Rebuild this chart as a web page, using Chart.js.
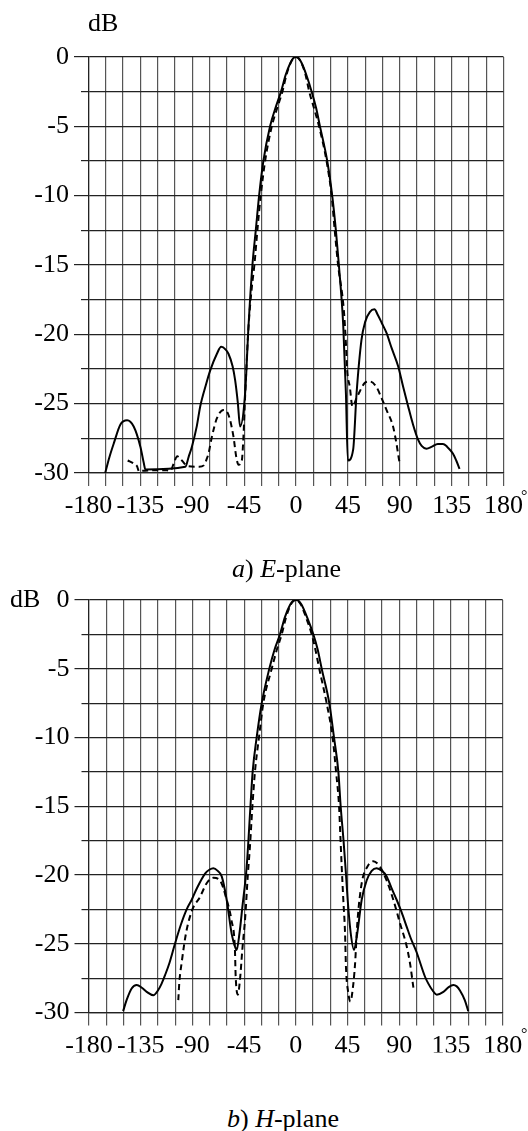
<!DOCTYPE html>
<html>
<head>
<meta charset="utf-8">
<script src="https://cdn.jsdelivr.net/npm/chart.js@4.4.1/dist/chart.umd.min.js"></script>
<style>
  body { margin: 0; background: #fff; width: 528px; height: 1131px; position: relative; overflow: hidden;
         font-family: "Liberation Serif", "DejaVu Serif", "Times New Roman", Times, serif; color: #000; }
  canvas { position: absolute; left: 0; }
  .txt { position: absolute; font-size: 26px; line-height: 26px; white-space: nowrap; }
  .deg { position: absolute; font-size: 16px; line-height: 16px; }
</style>
</head>
<body>
<canvas id="ePlane" width="528" height="530" style="top:0"></canvas>
<canvas id="hPlane" width="528" height="500" style="top:560px"></canvas>

<div class="txt" style="left:88px;top:10px">dB</div>
<div class="deg" style="left:521px;top:488px">°</div>
<div class="txt" style="left:232px;top:556px"><i>a</i>) <i>E</i>-plane</div>

<div class="txt" style="left:10px;top:586px">dB</div>
<div class="deg" style="left:521px;top:1026px">°</div>
<div class="txt" style="left:227px;top:1106px"><i>b</i>) <i>H</i>-plane</div>

<script>
// tick labels
const degLabels = [-180, -135, -90, -45, 0, 45, 90, 135, 180]
const dbLabels = [0, -5, -10, -15, -20, -25, -30]

// a) E-plane, solid curve
const eSolidDeg = [-165.5, -162, -158, -152.3, -146.5, -140.8, -135, -132, -130.7, -96, -93, -90.3, -86, -83.1, -78, -74.4,
  -68.6, -64.9, -61, -58.6, -55, -52.8, -50.5, -48.5, -44.1, -41.2, -37.8, -34.9, -32, -28.3, -22.5, -17.5, -13, -9, -5, -2.5, 0,
  2.5, 5, 9, 13.6, 17.5, 20.8, 27.1, 31.4, 34.6, 37.2, 41, 43.3, 45, 49.6, 52.5, 56.8, 60, 64, 68, 71, 74.5, 78.5, 83, 88.6, 93,
  97.3, 101.5, 105.9, 109, 113.1, 118, 123, 127.5, 131, 136.1, 139, 141.9]
const eSolidDb = [-30, -28.9, -27.85, -26.5, -26.2, -26.65, -28.1, -29.3, -29.75, -29.55, -28.8, -28.1, -26.6, -25.2, -23.6, -22.6,
  -21.4, -20.9, -21.1, -21.4, -22.3, -23.3, -24.9, -26.65, -24.2, -19.4, -15, -12.5, -10, -7.5, -5, -3.6, -2.5, -1.3, -0.45, -0.1, 0,
  -0.1, -0.45, -1.3, -2.5, -3.7, -5, -7.5, -10, -12.5, -15, -19.4, -24.25, -29.1, -28.3, -24.3, -20.4, -19.1, -18.4, -18.2, -18.6, -19.2, -19.9, -21, -22.3, -23.8,
  -25.2, -26.5, -27.6, -28.05, -28.25, -28.1, -27.9, -27.9, -28.1, -28.6, -29.1, -29.7]

// a) E-plane, dashed curve
const eDashDeg = [-146, -141, -138, -136, -134, -112, -109, -106, -103, -99, -94, -84, -80, -77.5, -75.9, -73, -68.6, -62.9,
  -58.6, -54.2, -51.9, -49.9, -47, -45.6, -44.1, -41.3, -38.3, -36.1, -33.5, -30.6, -26.8, -21, -16, -11.8, -8, -4.5, -2.2, 0,
  2.2, 4.5, 8, 11.5, 16, 20, 26.5, 30.9, 33.6, 36.5, 41.5, 43.3, 44.4, 46.7, 49, 52.5, 55.4, 59.7, 64, 69.8, 74.2, 78.5, 84.2, 87.1, 89.4, 90]
const eDashDb = [-29.1, -29.3, -29.5, -29.9, -29.85, -29.8, -29.85, -29.3, -28.8, -29.1, -29.5, -29.55, -29.45, -29.0, -28.6, -27.4, -26.05, -25.45,
  -25.8, -27.4, -28.8, -29.4, -29.1, -27.4, -24.4, -19.6, -16.6, -15, -12.5, -10, -7.5, -5, -3.6, -2.5, -1.2, -0.4, -0.1, 0,
  -0.1, -0.4, -1.2, -2.5, -3.8, -5, -7.5, -10, -12.5, -15, -18.25, -20.65, -22.6, -23.8, -25.2, -24.6, -24.1, -23.5, -23.4, -23.8, -24.6, -25.45, -26.65, -27.85, -29.05, -29.3]

// b) H-plane, solid curve
const hSolidDeg = [-150.3, -147.3, -142.9, -138.5, -134, -129.8, -124, -120, -116.8, -113.9, -110, -105.2, -100, -95, -90.6, -86.3,
  -79, -75, -71.8, -68, -64.5, -60.2, -55.8, -53, -51.5, -49, -46.5, -42.8, -39.5, -37.6, -34.1, -29.7, -23.1, -18.5, -13.8, -9.5, -5, -2.5, 0,
  2.5, 5, 10, 15.2, 19, 22.5, 29.1, 33.2, 37, 39, 41.5, 43.5, 45.1, 47.7, 50.6, 53.5, 57.3, 61.6, 66, 70.3, 75, 79, 83, 87.7, 92,
  96.4, 100, 105, 112.4, 115.3, 119, 122.6, 128.4, 133, 137.1, 140, 142.8, 147, 150]
const hSolidDb = [-29.9, -29.1, -28.25, -28.0, -28.2, -28.5, -28.75, -28.4, -27.9, -27.3, -26.4, -25.0, -23.6, -22.5, -21.8, -21,
  -19.9, -19.6, -19.5, -19.7, -20.1, -21.8, -24.3, -25.2, -25.45, -24.2, -22.3, -19.4, -15, -12.5, -10, -7.5, -5, -3.6, -2.5, -1.25, -0.35, -0.08, 0,
  -0.08, -0.35, -1.3, -2.5, -3.6, -5, -7.5, -10, -12.5, -15, -17.5, -19.8, -21.8, -24.2, -25.45, -24.2, -21.8, -20.4, -19.7, -19.5, -19.7, -20.1, -20.9, -21.8, -22.7,
  -23.75, -24.6, -25.6, -27.4, -27.9, -28.4, -28.7, -28.5, -28.15, -28.0, -28.1, -28.4, -29.1, -29.9]

// b) H-plane, dashed curve
const hDashDeg = [-102.3, -101.4, -99.4, -95.5, -90, -83.4, -77.6, -71.8, -66, -60.2, -56, -53, -52.4, -50.5, -48.6, -46.6, -44,
  -41.8, -40, -37.8, -35.6, -32.1, -28.3, -21, -16.5, -12.3, -8.5, -4.5, -2.2, 0, 2.2, 4.5, 9, 13.8, 17, 20.4, 26.8, 32, 35, 37.6, 38.6, 39.9, 41.3, 42.8,
  43.6, 45.5, 47.5, 49.5, 51.5, 53.5, 57.3, 62.2, 67.4, 73.2, 79, 84.8, 90.6, 96.5, 99.5, 102.3]
const hDashDb = [-29.1, -27.8, -26.4, -24.2, -22.5, -21.6, -20.6, -20.2, -20.4, -21.8, -23.3, -25.45, -27.3, -28.7, -27.6, -25.45, -23,
  -20, -18, -15, -12.5, -10, -7.5, -5, -3.6, -2.5, -1.25, -0.35, -0.08, 0, -0.08, -0.35, -1.3, -2.5, -3.6, -5, -7.5, -10, -12.5, -15, -16.9, -19.4, -21.8, -24.2,
  -26.7, -28.5, -29.2, -28.3, -26.5, -23.5, -20.6, -19.4, -19.0, -19.4, -20.4, -21.8, -23.5, -25.2, -26.5, -28.2]

const serif = '"Liberation Serif", "DejaVu Serif", "Times New Roman", Times, serif'
const toPoints = (xs, ys) => xs.map((x, i) => ({ x, y: ys[i] }))
const isMinor = (ctx) => ctx.tick && !dbLabels.includes(Math.round(ctx.tick.value * 10) / 10)

function makeChart(id, solid, dashed, box) {
  return new Chart(document.getElementById(id), {
    type: 'line',
    data: {
      datasets: [
        { data: solid, borderColor: '#000', borderWidth: 2, pointRadius: 0, cubicInterpolationMode: 'monotone' },
        { data: dashed, borderColor: '#000', borderWidth: 2, borderDash: [6, 4], pointRadius: 0, cubicInterpolationMode: 'monotone' }
      ]
    },
    options: {
      responsive: false,
      animation: false,
      events: [],
      layout: { padding: { top: box.top, bottom: box.bottom, left: 0, right: box.right } },
      plugins: { legend: { display: false }, tooltip: { enabled: false } },
      scales: {
        x: {
          type: 'linear',
          min: -180,
          max: 180,
          afterFit: (scale) => { scale.height = 40 },
          grid: { color: '#555', lineWidth: 1.2, tickLength: 13, tickColor: '#555', tickWidth: 1.2 },
          border: { color: '#222', width: 1.2 },
          ticks: {
            stepSize: 15,
            autoSkip: false,
            maxRotation: 0,
            padding: 5,
            color: '#000',
            font: { family: serif, size: 26 },
            callback: (v) => degLabels.includes(Math.round(v)) ? String(Math.round(v)) : ''
          }
        },
        y: {
          min: -30,
          max: 0,
          afterFit: (scale) => { scale.width = box.left },
          grid: {
            color: '#222',
            lineWidth: 1.2,
            tickLength: 14.5,
            tickColor: '#222',
            tickWidth: 1.2,
            tickBorderDash: (ctx) => isMinor(ctx) ? [7.5, 7] : [],
            tickBorderDashOffset: (ctx) => isMinor(ctx) ? 7.5 : 0
          },
          border: { color: '#222', width: 1.2 },
          ticks: {
            stepSize: 2.5,
            autoSkip: false,
            padding: 5,
            color: '#000',
            font: { family: serif, size: 26 },
            callback: (v) => dbLabels.includes(v) ? String(v) : ''
          }
        }
      }
    }
  })
}

makeChart('ePlane', toPoints(eSolidDeg, eSolidDb), toPoints(eDashDeg, eDashDb), { top: 57, bottom: 17, left: 88.5, right: 24.5 })
makeChart('hPlane', toPoints(hSolidDeg, hSolidDb), toPoints(hDashDeg, hDashDb), { top: 40, bottom: 7.5, left: 89, right: 25.3 })
</script>
</body>
</html>
